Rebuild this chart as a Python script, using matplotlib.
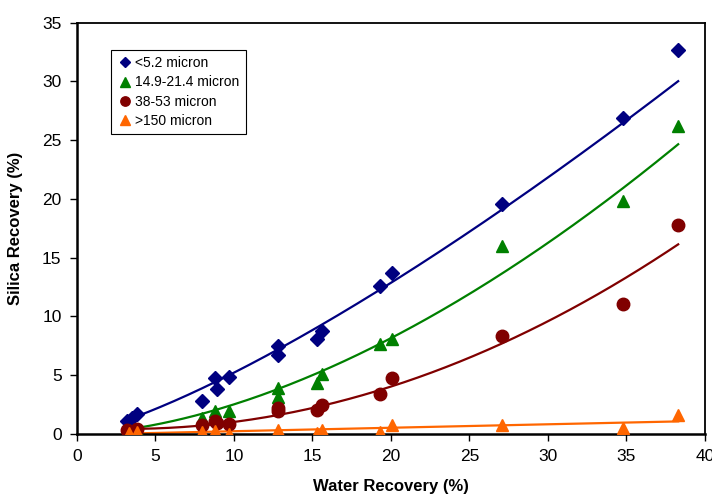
import numpy as np
import matplotlib
matplotlib.use('Agg')
import matplotlib.pyplot as plt

plt.rcParams['font.family'] = ['Liberation Sans', 'DejaVu Sans']

# water recovery (%) and silica recovery (%) for each size class
x_fine = [3.2, 3.5, 3.8, 8.0, 8.8, 8.9, 9.7, 12.8, 12.8, 15.3, 15.6, 19.3, 20.1, 27.1, 34.8, 38.3]
y_fine = [1.1, 1.3, 1.7, 2.8, 4.7, 3.8, 4.8, 7.5, 6.7, 8.1, 8.7, 12.6, 13.7, 19.6, 26.9, 32.7]

x_mid = [3.3, 3.8, 8.0, 8.8, 9.7, 12.8, 12.8, 15.3, 15.6, 19.3, 20.1, 27.1, 34.8, 38.3]
y_mid = [0.3, 0.3, 1.3, 1.9, 1.9, 3.9, 3.1, 4.3, 5.1, 7.6, 8.1, 16.0, 19.8, 26.2]

x_coarse = [3.2, 3.8, 8.0, 8.8, 8.9, 9.7, 12.8, 12.8, 15.3, 15.6, 19.3, 20.1, 27.1, 34.8, 38.3]
y_coarse = [0.3, 0.4, 0.7, 1.1, 0.9, 0.8, 2.2, 1.9, 2.0, 2.4, 3.4, 4.7, 8.3, 11.0, 17.8]

x_big = [3.3, 3.8, 8.0, 8.8, 9.7, 12.8, 15.3, 15.6, 19.3, 20.1, 27.1, 34.8, 38.3]
y_big = [0.05, 0.1, 0.1, 0.2, 0.0, 0.3, 0.05, 0.3, 0.1, 0.7, 0.7, 0.5, 1.6]

# trend lines: power (a, b) -> a*x^b, poly -> np.polyval coefficients
trend_fine = ('power', [0.256, 1.307])
trend_mid = ('power', [0.0489, 1.707])
trend_coarse = ('poly', [0.012746, -0.0810, 0.529])
trend_big = ('poly', [0.0295, -0.09])

series = [
    (x_fine, y_fine, trend_fine, 'D', 7, '#000080', '<5.2 micron'),
    (x_mid, y_mid, trend_mid, '^', 9, '#008000', '14.9-21.4 micron'),
    (x_coarse, y_coarse, trend_coarse, 'o', 9, '#800000', '38-53 micron'),
    (x_big, y_big, trend_big, '^', 9, '#FF6600', '>150 micron'),
]


def trend(kind, p, x):
    if kind == 'power':
        return p[0] * x ** p[1]
    return np.polyval(p, x)


fig = plt.figure(figsize=(7.12, 4.95), dpi=100)
ax = fig.add_axes([0.108, 0.124, 0.882, 0.830])

for xs, ys, (kind, p), mk, ms, col, lab in series:
    xx = np.linspace(min(xs), max(xs), 200)
    ax.plot(xx, trend(kind, p, xx), color=col, lw=1.6, zorder=2)
    ax.plot(xs, ys, mk, ms=ms, color=col, mec=col, ls='none', label=lab, zorder=3)

ax.set_xlim(0, 40)
ax.set_ylim(0, 35)
ax.set_xticks(np.arange(0, 41, 5))
ax.set_yticks(np.arange(0, 36, 5))
ax.tick_params(direction='out', length=5, width=1, labelsize=12.5, pad=6)
for s in ['left', 'bottom']:
    ax.spines[s].set_linewidth(1.8)
for s in ['top', 'right']:
    ax.spines[s].set_linewidth(1.3)

ax.set_xlabel('Water Recovery (%)', fontsize=12, fontweight='bold', labelpad=11)
ax.set_ylabel('Silica Recovery (%)', fontsize=12, fontweight='bold', labelpad=14)

leg = ax.legend(loc='upper left', bbox_to_anchor=(0.054, 0.934), borderaxespad=0,
                fontsize=10, handlelength=1.1, handletextpad=0.2, borderpad=0.45,
                labelspacing=0.38, markerscale=0.75, fancybox=False,
                edgecolor='black', framealpha=1)
leg.get_frame().set_linewidth(0.8)

fig.savefig('out.png', dpi=100)
